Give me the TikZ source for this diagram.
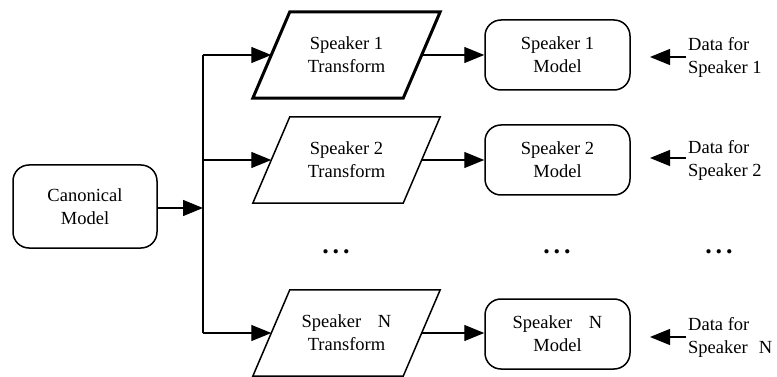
\documentclass[tikz,border=0pt]{standalone}
\usepackage{fontspec}
\setmainfont{Liberation Serif}
\usetikzlibrary{arrows.meta}
\begin{document}
\begin{tikzpicture}[x=1pt,y=-1pt,
  txt/.style={font=\fontsize{18.5}{23}\selectfont},
  box/.style={txt,draw,line width=1.5pt,rounded corners=16pt,minimum width=145pt,minimum height=70pt,align=center,inner sep=0pt},
  tfbox/.style={txt,minimum width=150pt,minimum height=86pt,align=center,inner sep=0pt},
  para/.style={draw,line width=1.5pt,line join=miter},
  arr/.style={line width=1.2pt,-{Triangle[length=20pt,width=16pt]}},
  wire/.style={line width=1.2pt},
  lbl/.style={txt,align=left,anchor=west,inner sep=0pt},
  dots/.style={font=\fontsize{26}{26}\selectfont\bfseries,inner sep=0pt}
]
\useasboundingbox (0,0) rectangle (777,377);

% canonical model
\node[box,minimum width=144pt,minimum height=83pt] (cm) at (85,206.5) {Canonical\\Model};

% transforms
\node[tfbox] (t1) at (346.5,55) {Speaker 1\\Transform};
\node[tfbox] (t2) at (346.5,160) {Speaker 2\\Transform};
\node[tfbox] (tn) at (346.5,333) {Speaker\hspace{0.9em}N\\Transform};
\draw[para,line width=3pt] ([xshift=18.5pt]t1.north west) -- ([xshift=18.5pt]t1.north east) -- ([xshift=-18.5pt]t1.south east) -- ([xshift=-18.5pt]t1.south west) -- cycle;
\draw[para] ([xshift=18.5pt]t2.north west) -- ([xshift=18.5pt]t2.north east) -- ([xshift=-18.5pt]t2.south east) -- ([xshift=-18.5pt]t2.south west) -- cycle;
\draw[para] ([xshift=18.5pt]tn.north west) -- ([xshift=18.5pt]tn.north east) -- ([xshift=-18.5pt]tn.south east) -- ([xshift=-18.5pt]tn.south west) -- cycle;

% models
\node[box] (m1) at (557.5,55) {Speaker 1\\Model};
\node[box] (m2) at (557.5,160) {Speaker 2\\Model};
\node[box] (mn) at (557.5,334) {Speaker\hspace{0.9em}N\\Model};

% data labels
\node[lbl] (d1) at (688,57) {Data for\\Speaker 1};
\node[lbl] (d2) at (688,160) {Data for\\Speaker 2};
\node[lbl] (dn) at (688,337) {Data for\\Speaker\hspace{0.6em}N};

% dots
\node[dots] (e1) at (336,252) {.\kern4pt.\kern4pt.};
\node[dots] (e2) at (557,252) {.\kern4pt.\kern4pt.};
\node[dots] (e3) at (719,252) {.\kern4pt.\kern4pt.};

% bus
\coordinate (b1) at (203,55);
\coordinate (b2) at (203,160);
\coordinate (bn) at (203,333);
\draw[wire] (b1) -- (bn);
\draw[arr] (cm.east |- 0,208) -- (b1 |- 0,208);
\draw[arr] (b1) -- (t1.west);
\draw[arr] (b2) -- (t2.west);
\draw[arr] (bn) -- (tn.west);

% transform to model
\draw[arr] (t1.east) -- (t1.east -| m1.west);
\draw[arr] (t2.east) -- (t2.east -| m2.west);
\draw[arr] (tn.east) -- (tn.east -| mn.west);

% data arrows
\draw[arr] ([xshift=-2pt]d1.west) -- ([xshift=-38pt]d1.west);
\draw[arr] ([xshift=-2pt,yshift=2pt]d2.west) -- ([xshift=-38pt,yshift=2pt]d2.west);
\draw[arr] ([xshift=-2pt]dn.west) -- ([xshift=-38pt]dn.west);
\end{tikzpicture}
\end{document}
